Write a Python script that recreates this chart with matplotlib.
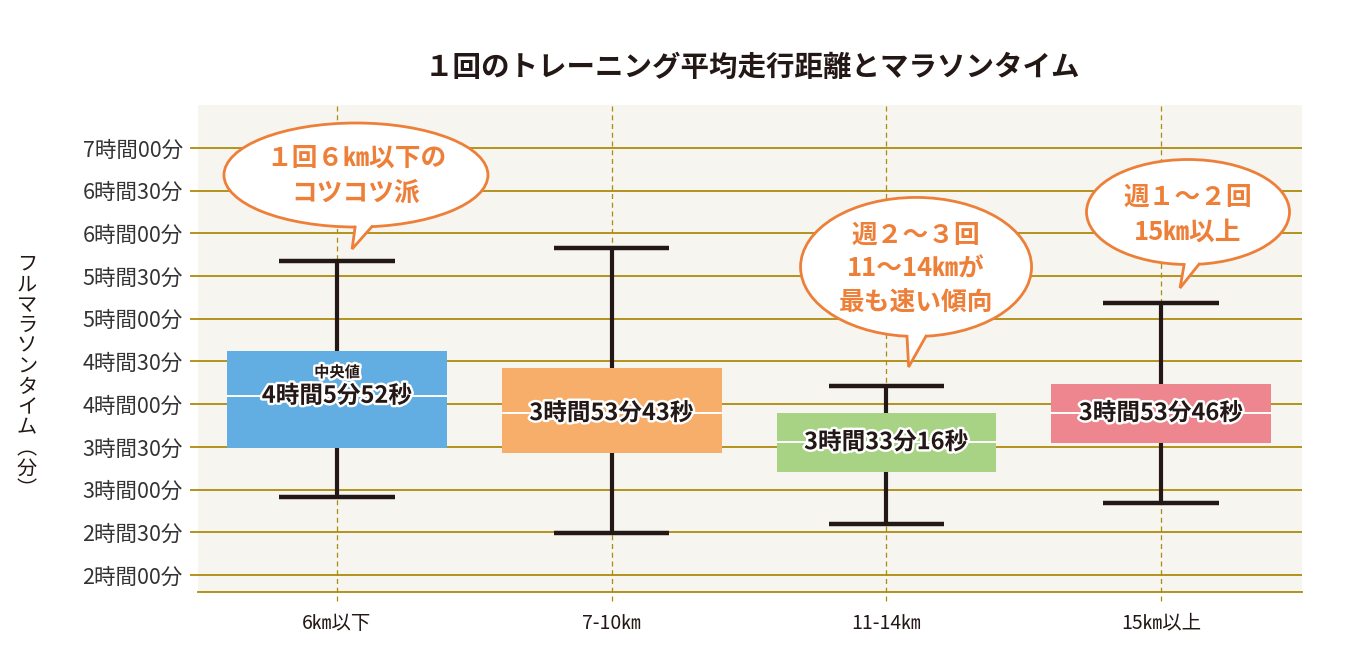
import numpy as np
import matplotlib.pyplot as plt
from matplotlib.patches import Ellipse, Polygon
import matplotlib.patheffects as pe

plt.rcParams['font.family'] = ['Noto Sans CJK JP', 'DejaVu Sans']

# data (minutes)
categories = ['6㎞以下', '7-10㎞', '11-14㎞', '15㎞以上']
whisker_low = [174.8, 149.5, 156.0, 170.8]
q1 = [209.2, 205.7, 192.6, 212.5]
median = [245.87, 233.72, 213.27, 233.77]
q3 = [277.4, 265.4, 233.6, 254.0]
whisker_high = [340.6, 349.7, 253.0, 311.1]
median_labels = ['4時間5分52秒', '3時間53分43秒', '3時間33分16秒', '3時間53分46秒']
box_colors = ['#62AEE2', '#F6AE6A', '#A8D385', '#EE8690']

ytick_vals = [120, 150, 180, 210, 240, 270, 300, 330, 360, 390, 420]
ytick_labels = ['2時間00分', '2時間30分', '3時間00分', '3時間30分', '4時間00分',
                '4時間30分', '5時間00分', '5時間30分', '6時間00分', '6時間30分',
                '7時間00分']

title = '１回のトレーニング平均走行距離とマラソンタイム'
ylabel = 'フルマラソンタイム︵分︶'

gold = '#AE8B0C'
dark = '#231815'
orange = '#EE7F38'

fig = plt.figure(figsize=(13.59, 6.71), dpi=100)
ax = fig.add_axes([198 / 1359, 79 / 671, 1104 / 1359, 487 / 671])
ax.set_facecolor('#F6F5EF')
ax.set_xlim(-0.506, 3.513)
ax.set_ylim(108, 450.2)

x = np.arange(len(categories))

# grid
ax.set_yticks(ytick_vals)
ax.set_yticklabels(ytick_labels)
ax.yaxis.grid(True, color=gold, lw=1.3)
ax.set_axisbelow(True)
ax.tick_params(axis='y', length=6, width=1.3, color=gold, pad=5,
               labelsize=15.5, labelcolor='#333333')
ax.set_xticks(x)
ax.set_xticklabels(categories)
ax.tick_params(axis='x', length=0, pad=15, labelsize=14, labelcolor=dark)
for s in ['left', 'right', 'top']:
    ax.spines[s].set_visible(False)
ax.spines['bottom'].set_color(gold)
ax.spines['bottom'].set_linewidth(1.3)

for xi in x:
    ax.axvline(xi, ymin=-0.018, ymax=1, color=gold, ls=(0, (4, 3)), lw=0.9,
               clip_on=False, zorder=1)

# boxes + whiskers
heights = np.array(q3) - np.array(q1)
ax.bar(x, heights, bottom=q1, width=0.8, color=box_colors, zorder=3)
ax.vlines(x, whisker_low, q1, color=dark, lw=3, zorder=2)
ax.vlines(x, q3, whisker_high, color=dark, lw=3, zorder=2)
ax.hlines(whisker_low, x - 0.21, x + 0.21, color=dark, lw=3.2, zorder=2)
ax.hlines(whisker_high, x - 0.21, x + 0.21, color=dark, lw=3.2, zorder=2)
ax.hlines(median, x - 0.4, x + 0.4, color='white', lw=1.4, zorder=4)

stroke = [pe.withStroke(linewidth=3.5, foreground='white')]
for xi, m, lab in zip(x, median, median_labels):
    ax.text(xi, m, lab, ha='center', va='center', fontsize=17,
            fontweight='bold', color=dark, zorder=5, path_effects=stroke)
ax.text(x[0], 262.5, '中央値', ha='center', va='center', fontsize=11,
        fontweight='bold', color=dark, zorder=5, path_effects=stroke)


def bubble(cx, cy, w, h, bx0, bx1, tip, lines, line_ys):
    ax.add_patch(Ellipse((cx, cy), w, h, facecolor='white', edgecolor=orange,
                         lw=2, zorder=6))
    def ybot(bx):
        return cy - h / 2 * np.sqrt(1 - ((bx - cx) / (w / 2)) ** 2)
    p0 = (bx0, ybot(bx0))
    p1 = (bx1, ybot(bx1))
    ax.add_patch(Polygon([(bx0, p0[1] + 3), p0, tip, p1, (bx1, p1[1] + 3)],
                         closed=True, facecolor='white', edgecolor='none',
                         zorder=7))
    ax.plot([p0[0], tip[0], p1[0]], [p0[1], tip[1], p1[1]], color=orange,
            lw=2, zorder=7, solid_joinstyle='miter')
    for t, ly in zip(lines, line_ys):
        ax.text(cx, ly, t, ha='center', va='center', fontsize=18.5,
                fontweight='bold', color=orange, zorder=8)


bubble(0.069, 401.0, 0.961, 73.1, 0.066, 0.127, (0.055, 349.0),
       ['１回６㎞以下の', 'コツコツ派'], [413.0, 388.4])
bubble(2.108, 336.4, 0.841, 97.7, 2.075, 2.144, (2.081, 266.1),
       ['週２～３回', '11～14㎞が', '最も速い傾向'], [358.9, 335.0, 311.1])
bubble(3.098, 375.0, 0.739, 73.8, 3.084, 3.138, (3.069, 321.6),
       ['週１～２回', '15㎞以上'], [385.6, 361.0])

fig.text(752 / 1359, 1 - 68 / 671, title, ha='center', va='center',
         fontsize=20.5, fontweight='bold', color=dark)
fig.text(27 / 1359, 1 - 377 / 671, '\n'.join(ylabel), ha='center', va='center',
         fontsize=14.5, linespacing=0.97, color=dark)

fig.savefig('out.png', dpi=100, facecolor='white')
